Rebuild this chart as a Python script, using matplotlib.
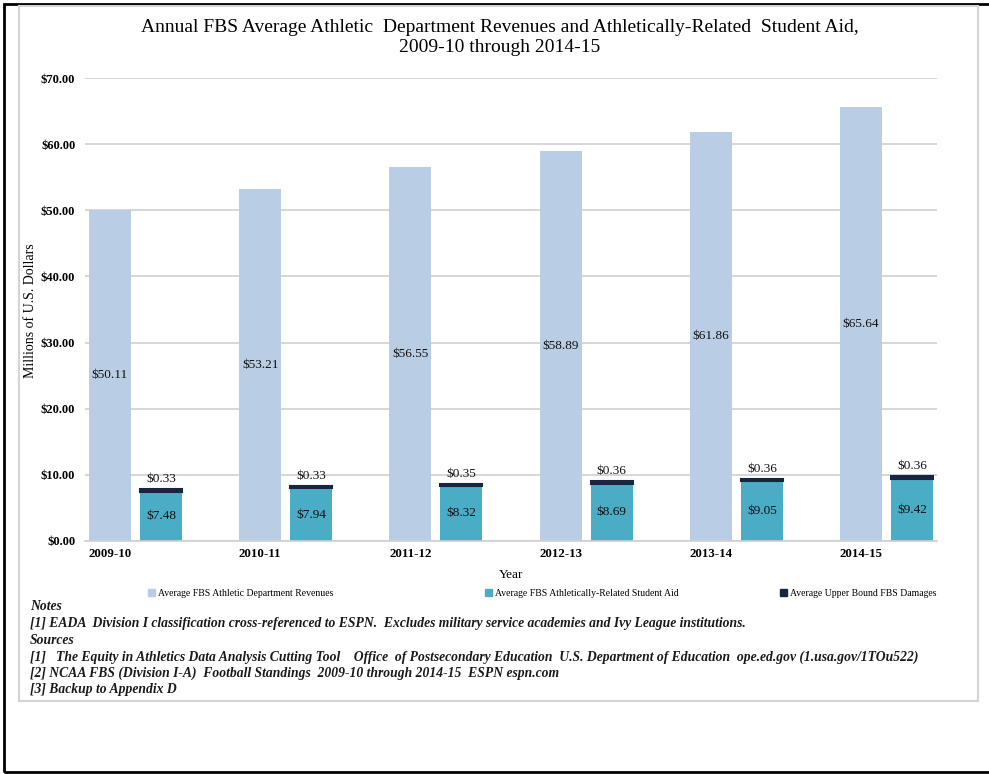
import numpy as np
import matplotlib.pyplot as plt
from matplotlib.patches import Rectangle, Patch

# Данные
years = ["2009-10", "2010-11", "2011-12", "2012-13", "2013-14", "2014-15"]
revenues = [50.11, 53.21, 56.55, 58.89, 61.86, 65.64]
student_aid = [7.48, 7.94, 8.32, 8.69, 9.05, 9.42]
damages = [0.33, 0.33, 0.35, 0.36, 0.36, 0.36]
yticks = [0, 10, 20, 30, 40, 50, 60, 70]

c_rev = "#B9CDE5"
c_aid = "#4BACC6"
c_dmg = "#17253F"
serif = "Liberation Serif"

W, H = 989, 774
fig = plt.figure(figsize=(W / 100, H / 100), dpi=100)
fig.patch.set_facecolor("white")

# Рамки страницы
fig.add_artist(Rectangle((4 / W, 1 - 772 / H), 1.2, (772 - 4) / H, transform=fig.transFigure,
                         fill=False, edgecolor="black", linewidth=2))
fig.add_artist(Rectangle((19 / W, 1 - 701 / H), (978 - 19) / W, (701 - 6) / H, transform=fig.transFigure,
                         fill=False, edgecolor="#d4d4d4", linewidth=1.5))

ax = fig.add_axes([85 / W, 1 - 541 / H, (937 - 85) / W, (541 - 78) / H])
x = np.arange(len(years))
bw = 0.28
off = 0.17

ax.bar(x - off, revenues, bw, color=c_rev, zorder=2)
ax.bar(x + off, student_aid, bw, color=c_aid, zorder=2)
ax.bar(x + off, damages, bw, bottom=student_aid, color=c_dmg, edgecolor=c_dmg, linewidth=1.5, zorder=2)

for i in range(len(years)):
    ax.text(x[i] - off, revenues[i] / 2, f"${revenues[i]:.2f}", ha="center", va="center",
            fontsize=9.5, family=serif, color="#111111")
    ax.text(x[i] + off, student_aid[i] / 2, f"${student_aid[i]:.2f}", ha="center", va="center",
            fontsize=9.5, family=serif, color="#111111")
    ax.text(x[i] + off, student_aid[i] + damages[i] + 0.6, f"${damages[i]:.2f}", ha="center", va="bottom",
            fontsize=9.5, family=serif, color="#111111")

ax.set_xlim(-0.336, len(years) - 1 + 0.336)
ax.set_ylim(0, 70)
ax.set_yticks(yticks)
ax.set_yticklabels([f"${v:.2f}" for v in yticks], fontsize=9, family=serif, fontweight="bold")
ax.set_xticks(x - off)
ax.set_xticklabels(years, fontsize=9.3, family=serif, fontweight="bold")
ax.tick_params(length=0, pad=5)
ax.tick_params(axis="y", pad=7)
ax.grid(axis="y", color="#d0d0d0", linewidth=1.2, zorder=0)
for s in ["top", "right", "left"]:
    ax.spines[s].set_visible(False)
ax.spines["bottom"].set_color("#d0d0d0")
ax.spines["bottom"].set_linewidth(1.2)

fig.text(31 / W, 1 - 311 / H, "Millions of U.S. Dollars", rotation=90, ha="center", va="center",
         fontsize=10, family=serif)
fig.text(511 / W, 1 - 575 / H, "Year", ha="center", va="center", fontsize=9.5, family=serif)

fig.text(500 / W, 1 - 27 / H, "Annual FBS Average Athletic  Department Revenues and Athletically-Related  Student Aid,",
         ha="center", va="center", fontsize=14, family=serif)
fig.text(500 / W, 1 - 48 / H, "2009-10 through 2014-15", ha="center", va="center", fontsize=14, family=serif)

# Легенда
labels = ["Average FBS Athletic Department Revenues",
          "Average FBS Athletically-Related Student Aid",
          "Average Upper Bound FBS Damages"]
colors = [c_rev, c_aid, c_dmg]
lx = [148, 485, 780]
for px, lab, col in zip(lx, labels, colors):
    fig.legend(handles=[Patch(color=col, label=lab)], loc="center left",
               bbox_to_anchor=(px / W, 1 - 593 / H), frameon=False, handlelength=0.7, handleheight=0.7,
               handletextpad=0.3, borderpad=0, borderaxespad=0,
               prop={"family": serif, "size": 7})

notes = [("Notes", 607),
         ("[1] EADA  Division I classification cross-referenced to ESPN.  Excludes military service academies and Ivy League institutions.", 624),
         ("Sources", 640),
         ("[1]   The Equity in Athletics Data Analysis Cutting Tool    Office  of Postsecondary Education  U.S. Department of Education  ope.ed.gov (1.usa.gov/1TOu522)", 657),
         ("[2] NCAA FBS (Division I-A)  Football Standings  2009-10 through 2014-15  ESPN espn.com", 673),
         ("[3] Backup to Appendix D", 689)]
for t, py in notes:
    fig.text(30 / W, 1 - py / H, t, ha="left", va="center", fontsize=9.8, family=serif,
             fontweight="bold", fontstyle="italic", color="#1a1a1a")

fig.savefig("out.png", dpi=100)
